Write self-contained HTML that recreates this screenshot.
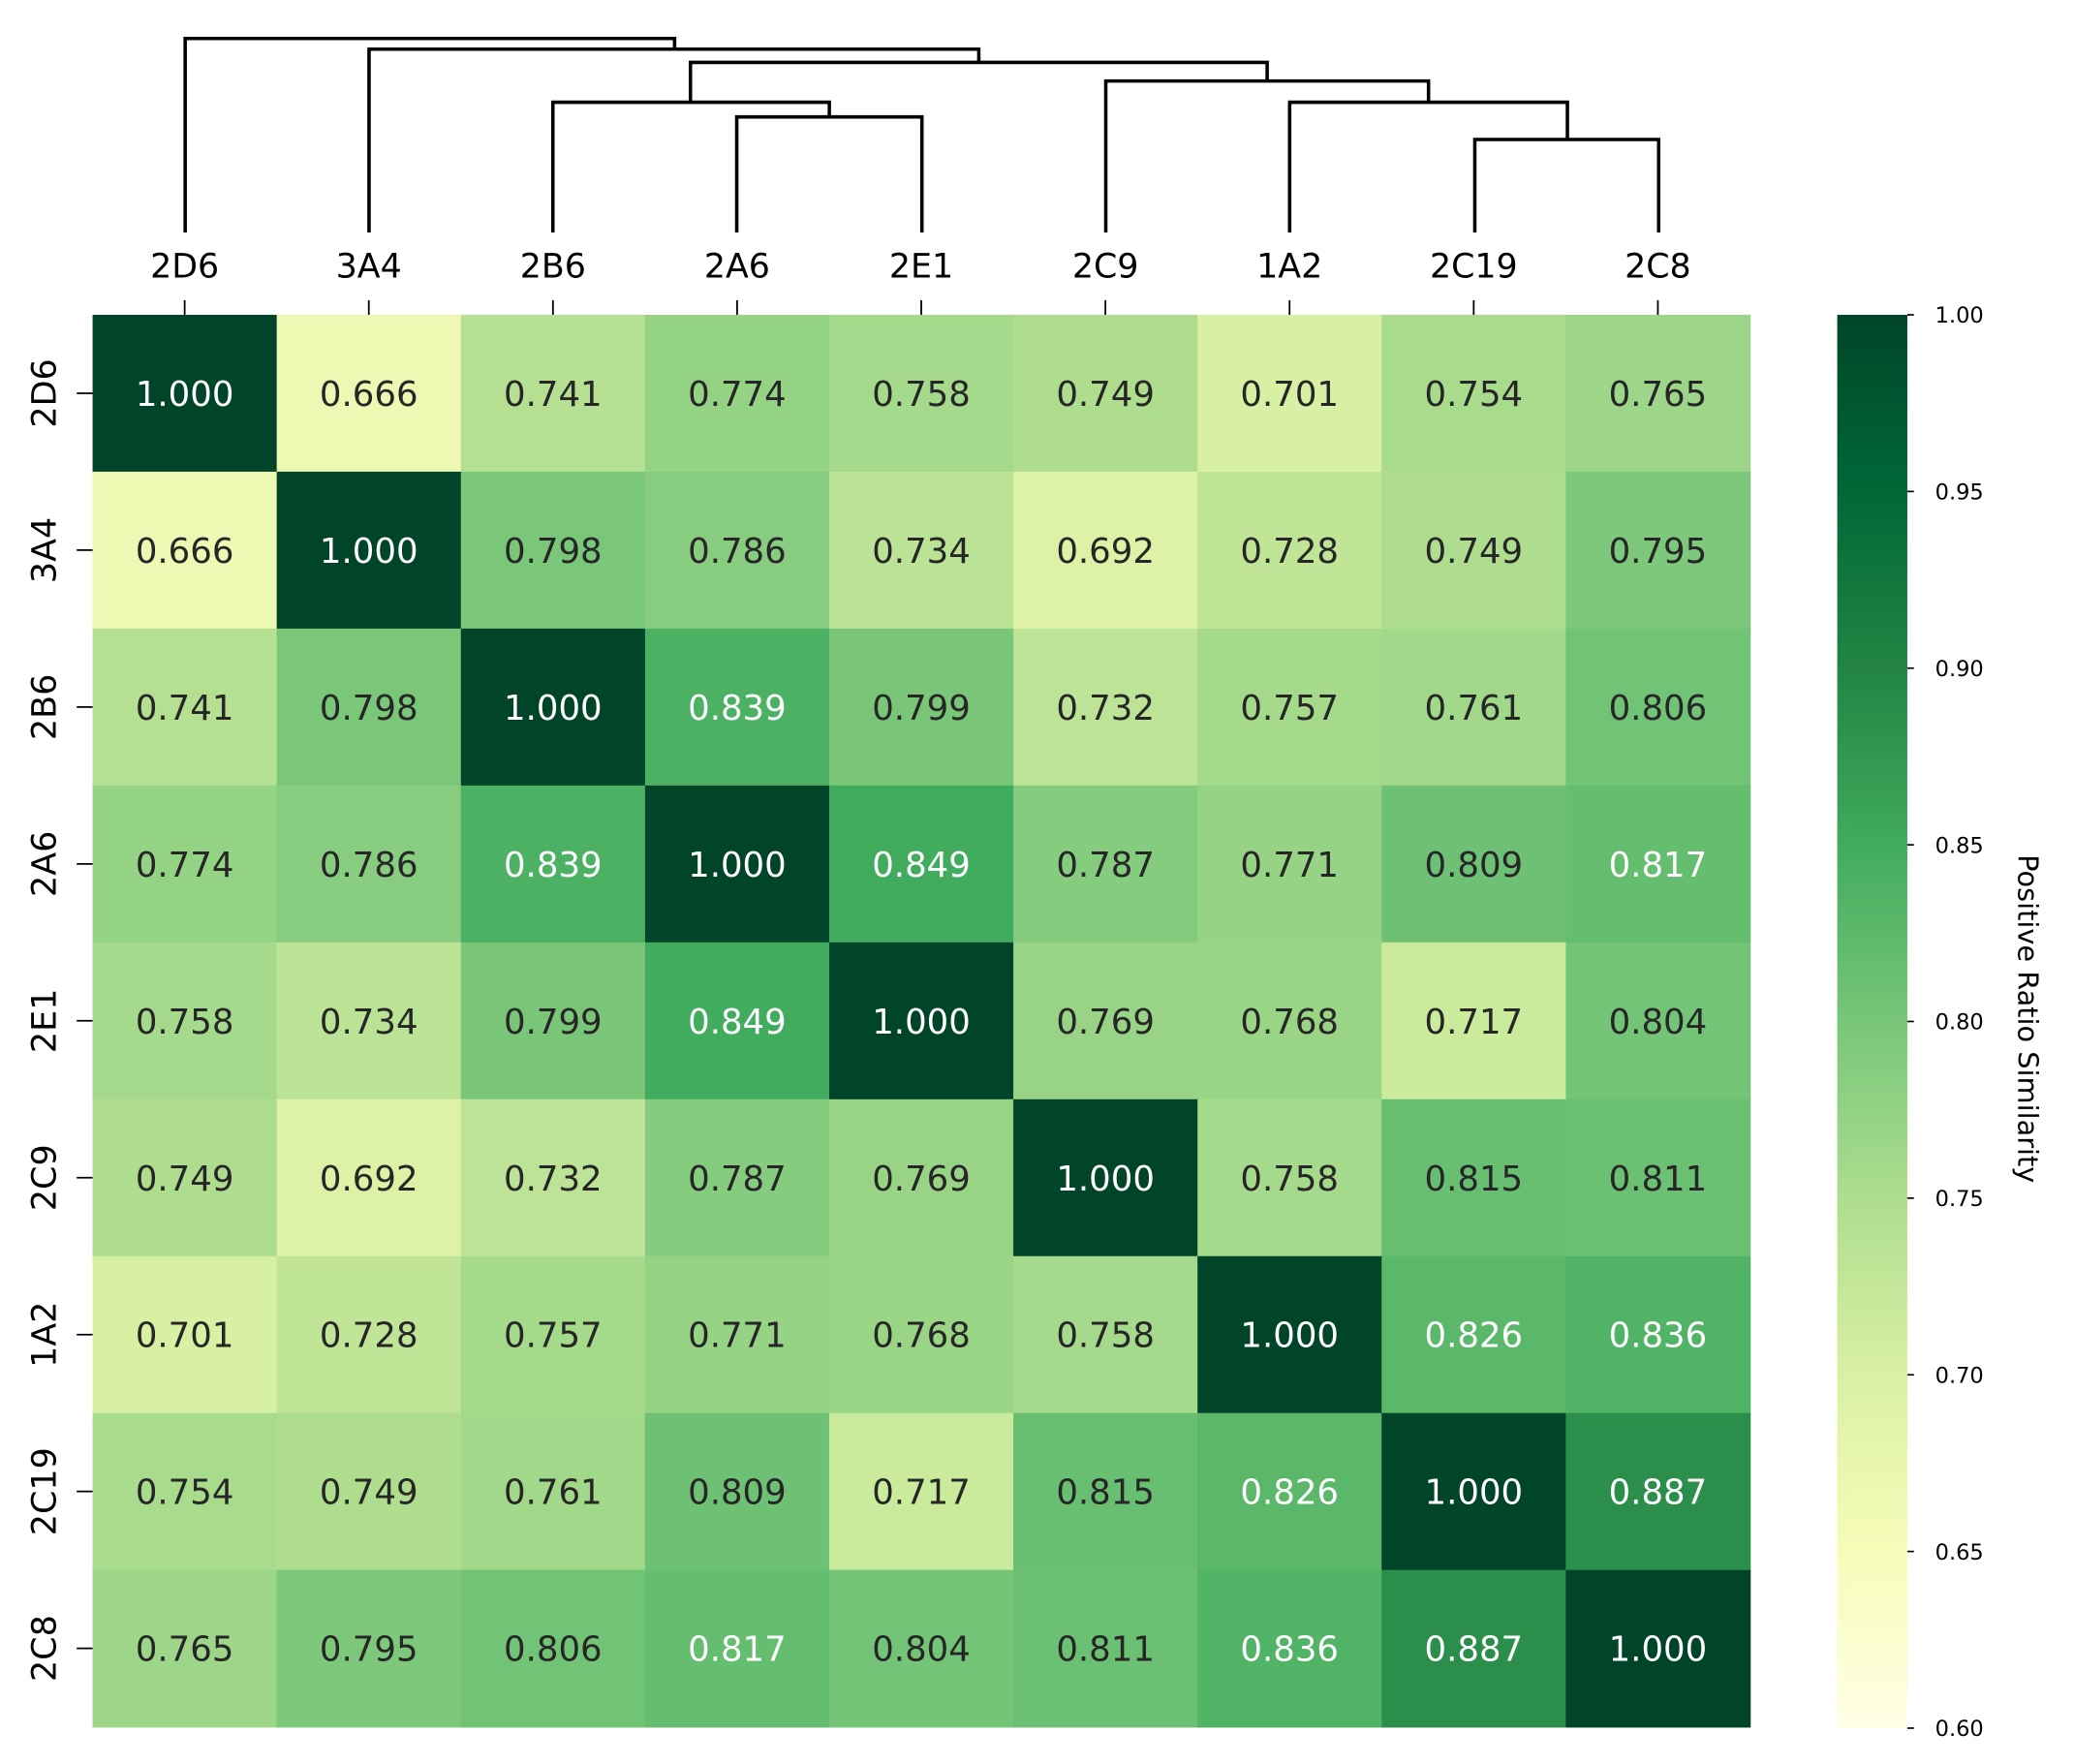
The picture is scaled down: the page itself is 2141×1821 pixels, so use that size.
<!DOCTYPE html>
<html><head><meta charset="utf-8"><style>
html,body{margin:0;padding:0;background:#fff;}
svg{display:block;}
text{font-family:"DejaVu Sans","Liberation Sans",sans-serif;}
</style></head><body>
<svg id="s" width="2141" height="1821" viewBox="0 0 1568 1328" preserveAspectRatio="none" xmlns="http://www.w3.org/2000/svg">
<defs>
<linearGradient id="cb" x1="0" y1="1" x2="0" y2="0">
<stop offset="0" stop-color="#ffffe5"/><stop offset="0.125" stop-color="#f7fcb9"/><stop offset="0.25" stop-color="#d9f0a3"/><stop offset="0.375" stop-color="#addd8e"/><stop offset="0.5" stop-color="#78c679"/><stop offset="0.625" stop-color="#41ab5d"/><stop offset="0.75" stop-color="#238443"/><stop offset="0.875" stop-color="#006837"/><stop offset="1" stop-color="#004529"/>
</linearGradient>
</defs>
<g id="g"></g>
</svg>
<script>
var labels=["2D6","3A4","2B6","2A6","2E1","2C9","1A2","2C19","2C8"];
var M=[
[1.000,0.666,0.741,0.774,0.758,0.749,0.701,0.754,0.765],
[0.666,1.000,0.798,0.786,0.734,0.692,0.728,0.749,0.795],
[0.741,0.798,1.000,0.839,0.799,0.732,0.757,0.761,0.806],
[0.774,0.786,0.839,1.000,0.849,0.787,0.771,0.809,0.817],
[0.758,0.734,0.799,0.849,1.000,0.769,0.768,0.717,0.804],
[0.749,0.692,0.732,0.787,0.769,1.000,0.758,0.815,0.811],
[0.701,0.728,0.757,0.771,0.768,0.758,1.000,0.826,0.836],
[0.754,0.749,0.761,0.809,0.717,0.815,0.826,1.000,0.887],
[0.765,0.795,0.806,0.817,0.804,0.811,0.836,0.887,1.000]];
var stops=["#ffffe5","#f7fcb9","#d9f0a3","#addd8e","#78c679","#41ab5d","#238443","#006837","#004529"].map(function(h){return [parseInt(h.substr(1,2),16),parseInt(h.substr(3,2),16),parseInt(h.substr(5,2),16)];});
function col(v){var t=(v-0.6)/0.4;t=Math.max(0,Math.min(1,t))*8;var i=Math.min(7,Math.floor(t)),f=t-i;var a=stops[i],b=stops[i+1];return "rgb("+[0,1,2].map(function(k){return Math.round(a[k]+(b[k]-a[k])*f);}).join(",")+")";}
var x0=70,x1=1323,y0=237,y1=1300,cw=(x1-x0)/9,ch=(y1-y0)/9;
var h="";
for(var r=0;r<9;r++)for(var c=0;c<9;c++){var v=M[r][c];
h+='<rect x="'+(x0+c*cw)+'" y="'+(y0+r*ch)+'" width="'+(cw+0.6)+'" height="'+(ch+0.6)+'" fill="'+col(v)+'"/>';
h+='<text x="'+(x0+(c+0.5)*cw)+'" y="'+(y0+(r+0.5)*ch+9.5)+'" font-size="26" text-anchor="middle" fill="'+(v>0.816?"#fff":"#262626")+'">'+v.toFixed(3)+'</text>';}
for(var i=0;i<9;i++){var cx=x0+(i+0.5)*cw,cy=y0+(i+0.5)*ch;
h+='<line x1="'+cx+'" y1="226" x2="'+cx+'" y2="237" stroke="#000" stroke-width="1.3"/>';
h+='<text x="'+cx+'" y="209" font-size="25.5" text-anchor="middle">'+labels[i]+'</text>';
h+='<line x1="58" y1="'+cy+'" x2="70" y2="'+cy+'" stroke="#000" stroke-width="1.3"/>';
h+='<text transform="translate(42,'+cy+') rotate(-90)" font-size="25.5" text-anchor="middle">'+labels[i]+'</text>';}
var segs=[[140,175,140,29,510,29,510,37],[279,175,279,37,740,37,740,47],[522,77,522,47,958,47,958,61],
[418,175,418,77,627,77,627,88],[557,175,557,88,697,88,697,175],[836,175,836,61,1080,61,1080,77],
[975,175,975,77,1185,77,1185,105],[1115,175,1115,105,1254,105,1254,175]];
segs.forEach(function(s){h+='<polyline points="'+s[0]+','+s[1]+' '+s[2]+','+s[3]+' '+s[4]+','+s[5]+' '+s[6]+','+s[7]+'" fill="none" stroke="#000" stroke-width="2.6"/>';});
var bx=1389,bw=53,by0=237,by1=1301;
h+='<rect x="'+bx+'" y="'+by0+'" width="'+bw+'" height="'+(by1-by0)+'" fill="url(#cb)"/>';
for(var k=0;k<=8;k++){var v=0.6+k*0.05,yy=by1-(by1-by0)*k/8;
h+='<line x1="'+(bx+bw)+'" y1="'+yy+'" x2="'+(bx+bw+5)+'" y2="'+yy+'" stroke="#000" stroke-width="1.2"/>';
h+='<text x="'+(bx+bw+21)+'" y="'+(yy+6)+'" font-size="16.5">'+v.toFixed(2)+'</text>';}
h+='<text transform="translate(1526,767) rotate(90)" font-size="21" text-anchor="middle">Positive Ratio Similarity</text>';
document.getElementById("g").innerHTML=h;
</script>
</body></html>
